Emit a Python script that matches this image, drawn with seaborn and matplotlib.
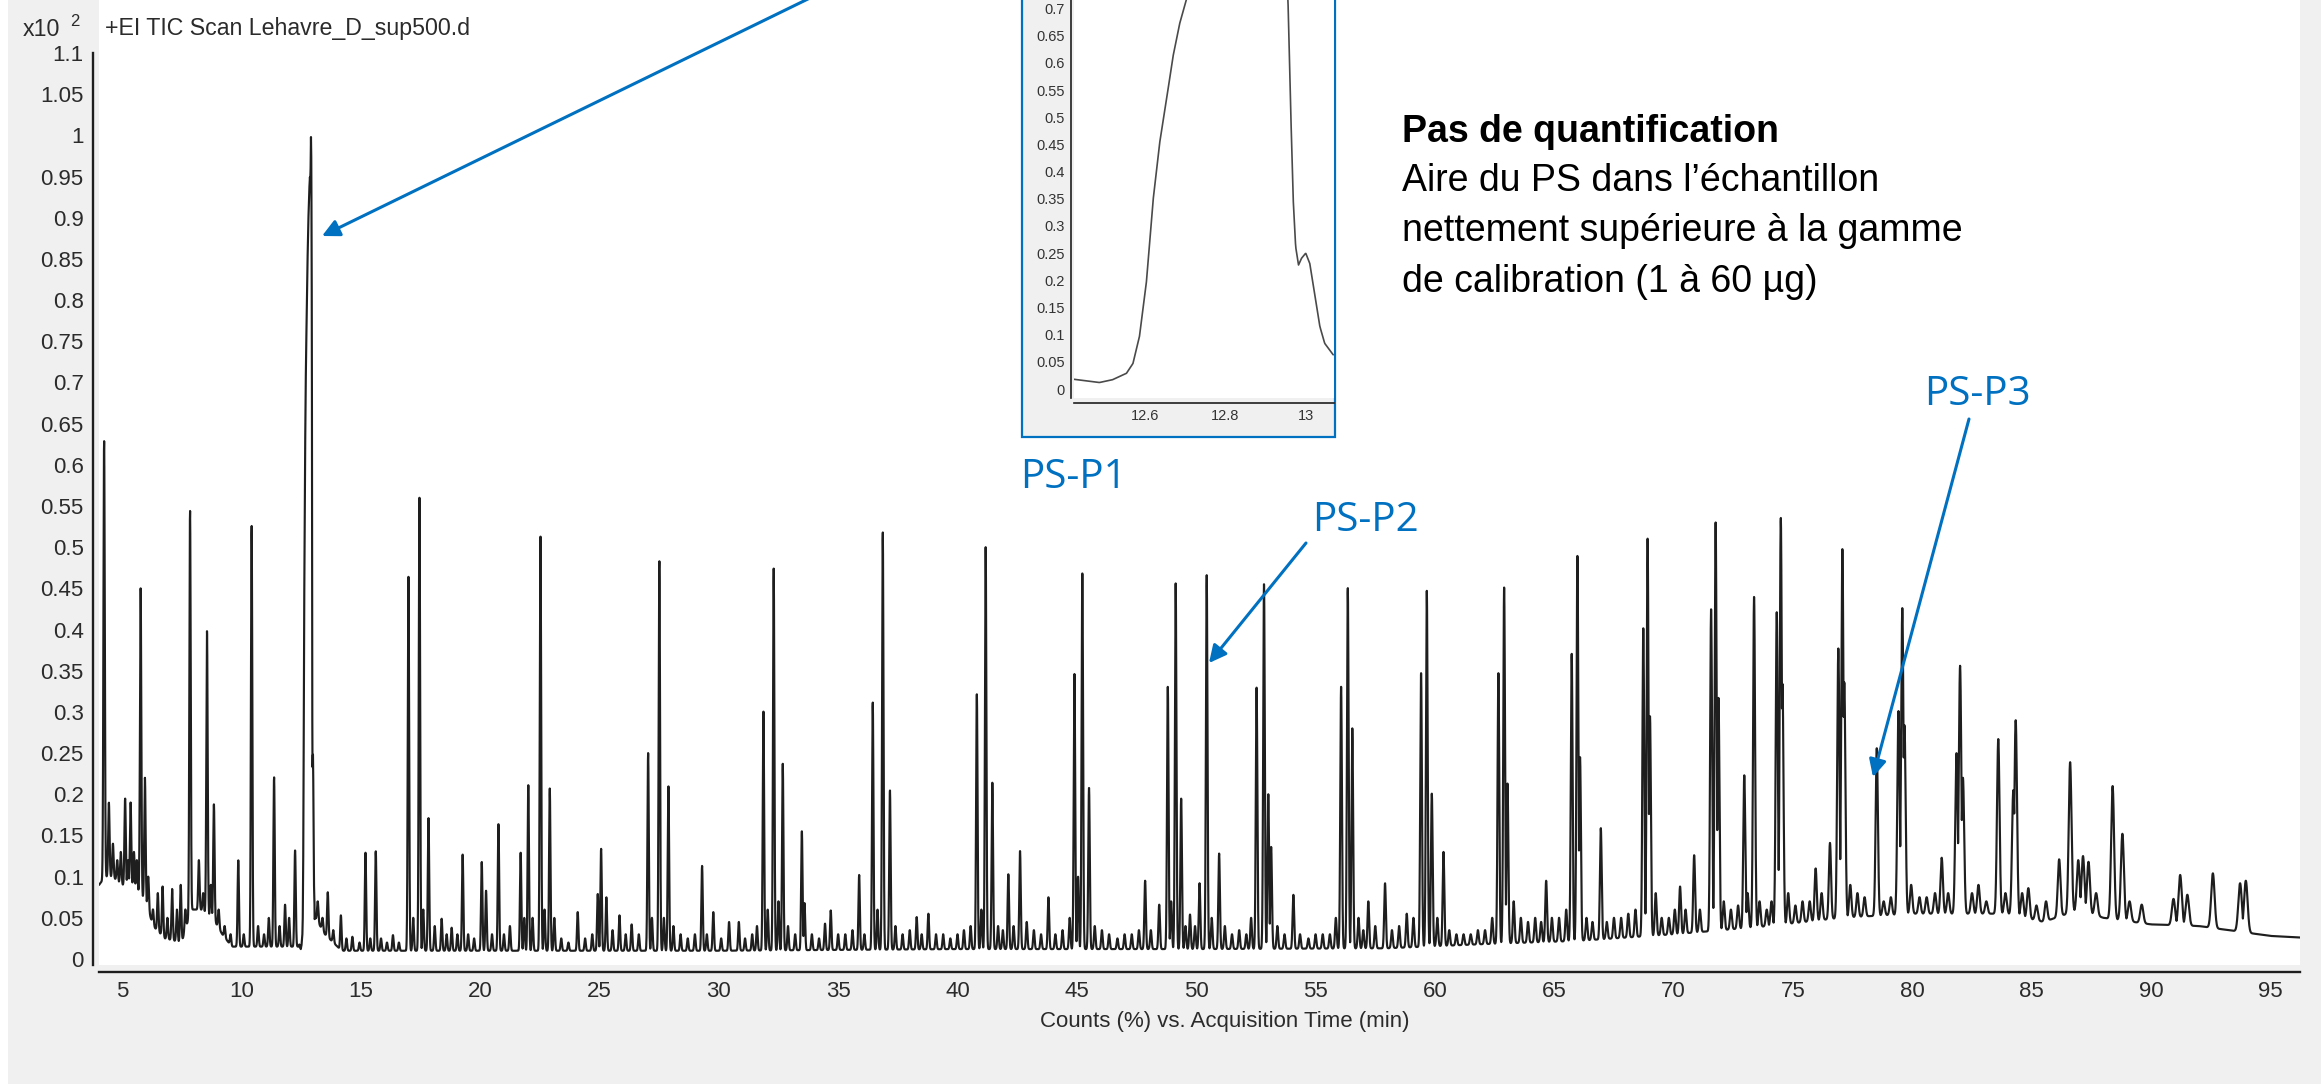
import numpy as np
import matplotlib
matplotlib.use("Agg")
import matplotlib.pyplot as plt
from matplotlib.patches import Rectangle, FancyArrowPatch
from matplotlib.ticker import FuncFormatter
import seaborn as sns

# ---------------------------------------------------------------- data
# TIC peaks: retention time (min) and apex height (counts, x10^2 %)
peak_rt = [
    4.25, 4.45, 4.62, 4.80, 4.95, 5.13, 5.25, 5.36, 5.50, 5.62, 5.78, 5.96, 6.10, 6.30,
    6.50, 6.70, 6.90, 7.10, 7.30, 7.46, 7.65, 7.85, 8.22, 8.40, 8.56, 8.72, 8.85, 9.05,
    9.30, 9.55, 9.87, 10.1, 10.43, 10.7, 10.95, 11.15, 11.37, 11.6, 11.83, 12.0, 12.25,
    13.2, 13.4, 13.62, 13.85, 14.17, 14.4, 14.65, 14.95, 15.2, 15.4, 15.63, 15.85, 16.1,
    16.35, 16.6, 17.0, 17.2, 17.46, 17.62, 17.84, 18.1, 18.39, 18.6, 18.81, 19.05, 19.27,
    19.5, 19.75, 20.07, 20.25, 20.5, 20.77, 21.0, 21.25, 21.7, 21.85, 22.02, 22.2, 22.53,
    22.7, 22.92, 23.11, 23.4, 23.7, 24.09, 24.4, 24.7, 24.93, 25.07, 25.29, 25.55, 25.84,
    26.1, 26.35, 26.65, 27.04, 27.2, 27.51, 27.7, 27.89, 28.1, 28.4, 28.7, 29.0, 29.3,
    29.5, 29.77, 30.1, 30.43, 30.84, 31.1, 31.4, 31.6, 31.87, 32.05, 32.3, 32.5, 32.68,
    32.9, 33.2, 33.48, 33.59, 33.9, 34.2, 34.45, 34.69, 35.0, 35.3, 35.6, 35.88, 36.1,
    36.45, 36.65, 36.87, 37.17, 37.4, 37.7, 38.0, 38.29, 38.5, 38.78, 39.1, 39.4, 39.7,
    40.0, 40.27, 40.55, 40.81, 41.0, 41.18, 41.46, 41.7, 41.9, 42.13, 42.35, 42.62, 42.9,
    43.2, 43.5, 43.81, 44.1, 44.4, 44.7, 44.9, 45.05, 45.23, 45.51, 45.75, 46.05, 46.35,
    46.7, 47.0, 47.3, 47.6, 47.86, 48.1, 48.45, 48.81, 48.95, 49.14, 49.37, 49.55, 49.74,
    49.95, 50.14, 50.44, 50.65, 50.96, 51.2, 51.5, 51.8, 52.1, 52.3, 52.53, 52.84, 53.02,
    53.14, 53.4, 53.7, 54.07, 54.35, 54.7, 55.0, 55.3, 55.6, 55.85, 56.07, 56.35, 56.54,
    56.8, 57.0, 57.21, 57.5, 57.91, 58.2, 58.5, 58.82, 59.1, 59.42, 59.66, 59.87, 60.1,
    60.36, 60.6, 60.9, 61.2, 61.5, 61.8, 62.1, 62.4, 62.66, 62.9, 63.04, 63.3, 63.6,
    63.9, 64.2, 64.45, 64.66, 64.9, 65.2, 65.5, 65.73, 65.97, 66.08, 66.35, 66.6, 66.95,
    67.2, 67.5, 67.8, 68.1, 68.4, 68.73, 68.91, 69.01, 69.25, 69.5, 69.8, 70.05, 70.27,
    70.5, 70.86, 71.1, 71.57, 71.76, 71.88, 72.1, 72.4, 72.7, 72.96, 73.1, 73.37, 73.6,
    73.9, 74.1, 74.32, 74.49, 74.56, 74.8, 75.1, 75.4, 75.7, 75.95, 76.2, 76.55, 76.9,
    77.07, 77.15, 77.4, 77.7, 78.0, 78.51, 78.8, 79.1, 79.42, 79.58, 79.67, 79.95, 80.3,
    80.6, 80.95, 81.23, 81.5, 81.85, 82.0, 82.12, 82.5, 82.77, 83.1, 83.6, 83.9, 84.23,
    84.33, 84.6, 84.86, 85.2, 85.6, 86.15, 86.61, 86.95, 87.15, 87.38, 87.7, 88.39, 88.8,
    89.1, 89.61, 90.94, 91.22, 91.52, 92.59, 93.73, 93.97,
]
peak_counts = [
    0.63, 0.19, 0.14, 0.12, 0.13, 0.195, 0.12, 0.19, 0.13, 0.12, 0.45, 0.22, 0.10, 0.06,
    0.08, 0.088, 0.05, 0.085, 0.06, 0.09, 0.06, 0.545, 0.12, 0.08, 0.398, 0.09, 0.188, 0.06,
    0.04, 0.03, 0.12, 0.03, 0.527, 0.04, 0.03, 0.05, 0.221, 0.04, 0.066, 0.05, 0.132,
    0.07, 0.05, 0.081, 0.035, 0.053, 0.025, 0.027, 0.02, 0.129, 0.025, 0.131, 0.025, 0.02,
    0.029, 0.02, 0.464, 0.05, 0.56, 0.06, 0.171, 0.04, 0.049, 0.03, 0.038, 0.03, 0.127,
    0.03, 0.025, 0.118, 0.083, 0.03, 0.164, 0.03, 0.04, 0.129, 0.05, 0.211, 0.05, 0.514,
    0.06, 0.207, 0.05, 0.025, 0.02, 0.057, 0.025, 0.03, 0.079, 0.134, 0.075, 0.035, 0.053,
    0.03, 0.042, 0.03, 0.25, 0.05, 0.484, 0.05, 0.21, 0.04, 0.03, 0.025, 0.03, 0.113,
    0.03, 0.057, 0.025, 0.045, 0.045, 0.025, 0.03, 0.04, 0.301, 0.06, 0.474, 0.07, 0.237,
    0.04, 0.03, 0.155, 0.068, 0.03, 0.025, 0.043, 0.059, 0.03, 0.03, 0.035, 0.102, 0.03,
    0.312, 0.06, 0.519, 0.205, 0.04, 0.03, 0.035, 0.051, 0.03, 0.055, 0.03, 0.03, 0.025,
    0.03, 0.035, 0.04, 0.322, 0.06, 0.5, 0.214, 0.04, 0.035, 0.103, 0.04, 0.131, 0.045,
    0.035, 0.03, 0.075, 0.03, 0.035, 0.05, 0.346, 0.1, 0.469, 0.208, 0.04, 0.035, 0.03,
    0.025, 0.03, 0.03, 0.035, 0.095, 0.035, 0.066, 0.331, 0.07, 0.456, 0.195, 0.04, 0.054,
    0.04, 0.092, 0.466, 0.05, 0.128, 0.04, 0.03, 0.035, 0.03, 0.05, 0.33, 0.455, 0.2,
    0.136, 0.04, 0.03, 0.078, 0.03, 0.025, 0.03, 0.03, 0.03, 0.05, 0.331, 0.451, 0.28,
    0.05, 0.035, 0.07, 0.04, 0.092, 0.035, 0.04, 0.055, 0.05, 0.347, 0.447, 0.201, 0.05,
    0.13, 0.035, 0.03, 0.03, 0.03, 0.035, 0.035, 0.05, 0.347, 0.451, 0.213, 0.07, 0.05,
    0.045, 0.05, 0.045, 0.095, 0.05, 0.05, 0.06, 0.371, 0.49, 0.245, 0.05, 0.045, 0.159,
    0.045, 0.05, 0.05, 0.055, 0.06, 0.402, 0.511, 0.295, 0.08, 0.05, 0.05, 0.06, 0.088,
    0.06, 0.126, 0.06, 0.425, 0.53, 0.317, 0.07, 0.06, 0.065, 0.223, 0.08, 0.44, 0.07,
    0.06, 0.07, 0.421, 0.536, 0.334, 0.08, 0.065, 0.07, 0.07, 0.11, 0.08, 0.141, 0.377,
    0.498, 0.336, 0.09, 0.08, 0.075, 0.256, 0.07, 0.075, 0.301, 0.426, 0.284, 0.09, 0.075,
    0.075, 0.08, 0.123, 0.08, 0.25, 0.356, 0.22, 0.08, 0.09, 0.07, 0.267, 0.08, 0.205,
    0.29, 0.08, 0.086, 0.065, 0.07, 0.121, 0.239, 0.12, 0.125, 0.118, 0.08, 0.21, 0.152,
    0.07, 0.066, 0.073, 0.102, 0.078, 0.104, 0.092, 0.095,
]

# slowly drifting baseline under the peaks
baseline_rt = [4.04, 4.3, 4.6, 5.0, 5.5, 6.0, 6.3, 6.8, 7.5, 7.9, 8.3, 8.8, 9.2, 9.6,
               12.4, 13.1, 13.5, 14.2, 20.0, 30.0, 40.0, 50.0, 58.0, 62.0, 66.0, 70.0,
               74.0, 77.0, 80.0, 84.0, 85.5, 87.0, 88.0, 90.0, 92.0, 94.0, 95.0, 96.3]
baseline_counts = [0.09, 0.10, 0.10, 0.09, 0.09, 0.07, 0.04, 0.025, 0.02, 0.06, 0.06, 0.05,
                   0.03, 0.015, 0.015, 0.05, 0.03, 0.01, 0.01, 0.01, 0.012, 0.012, 0.013,
                   0.018, 0.022, 0.03, 0.04, 0.05, 0.055, 0.055, 0.045, 0.06, 0.05, 0.042,
                   0.04, 0.032, 0.028, 0.026]

# peak width (gaussian sigma, min) along the run
width_rt = [4.0, 40.0, 70.0, 85.0, 96.5]
width_sigma = [0.028, 0.03, 0.038, 0.055, 0.08]

# PS-P1 profile (overloaded peak), shared by the main trace and the zoom window
p1_rt = [12.424, 12.455, 12.488, 12.52, 12.555, 12.571, 12.587, 12.604, 12.621, 12.637,
         12.654, 12.670, 12.687, 12.703, 12.73, 12.76, 12.80, 12.84, 12.87, 12.885, 12.90,
         12.915, 12.93, 12.945, 12.955, 12.961, 12.968, 12.974, 12.981, 12.988, 12.999,
         13.009, 13.021, 13.034, 13.046, 13.067]
p1_counts = [0.018, 0.015, 0.012, 0.017, 0.029, 0.047, 0.096, 0.194, 0.348, 0.452,
             0.532, 0.611, 0.673, 0.716, 0.77, 0.83, 0.89, 0.93, 0.95, 0.945, 0.96,
             1.0, 0.97, 0.85, 0.716, 0.532, 0.348, 0.262, 0.228, 0.240, 0.250,
             0.231, 0.176, 0.115, 0.084, 0.063]

x_ticks = list(range(5, 100, 5))
y_ticks = [round(0.05 * i, 2) for i in range(23)]
inset_x_ticks = [12.6, 12.8, 13.0]
inset_y_ticks = [round(0.05 * i, 2) for i in range(15)]

# ---------------------------------------------------------------- trace
t = np.arange(4.04, 96.26, 0.004)
base = np.interp(t, baseline_rt, baseline_counts)
signal = base.copy()
rt = np.asarray(peak_rt)
amp = np.clip(np.asarray(peak_counts) - np.interp(rt, baseline_rt, baseline_counts), 0, None)
sig = np.interp(rt, width_rt, width_sigma)
for r, a, s in zip(rt, amp, sig):
    m = np.abs(t - r) < 6 * s
    signal[m] = np.maximum(signal[m], base[m] + a * np.exp(-0.5 * ((t[m] - r) / s) ** 2))
seg = (t >= p1_rt[0]) & (t <= p1_rt[-1])
signal[seg] = np.interp(t[seg], p1_rt, p1_counts)

t_in = np.linspace(p1_rt[0], p1_rt[-1], 600)
s_in = np.interp(t_in, p1_rt, p1_counts)

# ---------------------------------------------------------------- figure
W, H, DPI = 2321, 1084, 100
BG = "#f0f0f0"
BLUE = "#0070C0"
INK = "#1e1e1e"
LABEL = "#2b2b2b"


def frac_box(left, top, right, bottom):
    return [left / W, 1 - bottom / H, (right - left) / W, (bottom - top) / H]


def fx(x):
    return x / W


def fy(y):
    return 1 - y / H


sns.set_theme(style="white")
plt.rcParams["font.family"] = ["Liberation Sans", "DejaVu Sans"]

fig = plt.figure(figsize=(W / DPI, H / DPI), dpi=DPI, facecolor=BG)
fig.add_artist(Rectangle((0, 0), 8 / W, 1, transform=fig.transFigure,
                         facecolor="white", edgecolor="none", zorder=0))


def trim(v, _pos=None):
    return f"{v:.2f}".rstrip("0").rstrip(".")


# main chromatogram
ax = fig.add_axes(frac_box(99, 0, 2300, 965), facecolor="white", zorder=1)
sns.lineplot(x=t, y=signal, ax=ax, color=INK, linewidth=1.55)
ax.set_xlim(4.036, 96.24)
ax.set_ylim(-0.0073, 1.1644)
for s in ("top", "right"):
    ax.spines[s].set_visible(False)
ax.spines["left"].set_position(("outward", 4.5))
ax.spines["left"].set_bounds(-0.0073, 1.1)
ax.spines["bottom"].set_position(("outward", 5))
for s in ("left", "bottom"):
    ax.spines[s].set_color(INK)
    ax.spines[s].set_linewidth(1.7)
ax.set_xticks(x_ticks)
ax.set_yticks(y_ticks)
ax.yaxis.set_major_formatter(FuncFormatter(trim))
ax.tick_params(axis="both", direction="out", length=4.5, width=1.2, color=INK,
               labelsize=16, labelcolor=LABEL, pad=2)
ax.set_xlabel("")
ax.set_ylabel("")

fig.text(fx(105), fy(28), "+EI TIC Scan Lehavre_D_sup500.d", ha="left", va="center",
         fontsize=16.7, color=LABEL)
fig.text(fx(23), fy(30), "x10", ha="left", va="center", fontsize=16.7, color=LABEL)
fig.text(fx(70), fy(21), "2", ha="left", va="center", fontsize=12, color=LABEL)
fig.text(fx(1225), fy(1021), "Counts (%) vs. Acquisition Time (min)", ha="center",
         va="center", fontsize=16, color=LABEL)

# zoom window on PS-P1
frame = Rectangle((fx(1022), fy(437)), (1335 - 1022) / W, (437 + 90) / H,
                  transform=fig.transFigure, facecolor=BG, edgecolor=BLUE,
                  linewidth=1.6, zorder=5)
fig.add_artist(frame)
ins = fig.add_axes(frac_box(1074, -73, 1334, 398), facecolor="white", zorder=6)
sns.lineplot(x=t_in, y=s_in, ax=ins, color="#4a4a4a", linewidth=1.2)
ins.set_xlim(12.425, 13.069)
ins.set_ylim(-0.0165, 0.85)
for s in ("top", "right"):
    ins.spines[s].set_visible(False)
ins.spines["left"].set_position(("outward", 2.2))
ins.spines["bottom"].set_position(("outward", 3.6))
for s in ("left", "bottom"):
    ins.spines[s].set_color(INK)
    ins.spines[s].set_linewidth(1.2)
ins.set_xticks(inset_x_ticks)
ins.xaxis.set_major_formatter(FuncFormatter(trim))
ins.set_yticks(inset_y_ticks)
ins.yaxis.set_major_formatter(FuncFormatter(trim))
ins.tick_params(axis="both", direction="out", length=3, width=1, color=INK,
                labelsize=10.5, labelcolor="#333333", pad=1.5)
ins.set_xlabel("")
ins.set_ylabel("")

# comment block
body = dict(ha="left", va="baseline", fontsize=27, color="black", zorder=8)
fig.text(fx(1402), fy(142), "Pas de quantification", fontweight="bold", **body)
fig.text(fx(1402), fy(191), "Aire du PS dans l\u2019\u00e9chantillon", **body)
fig.text(fx(1402), fy(241), "nettement sup\u00e9rieure \u00e0 la gamme", **body)
fig.text(fx(1402), fy(292), "de calibration (1 \u00e0 60 \u00b5g)", **body)

# peak call-outs
tag = dict(ha="left", va="baseline", fontsize=29, color=BLUE,
           family=["Open Sans", "DejaVu Sans"], zorder=8)
fig.text(fx(1020), fy(488), "PS-P1", **tag)
fig.text(fx(1312), fy(531), "PS-P2", **tag)
fig.text(fx(1924), fy(405), "PS-P3", **tag)

for (x0, y0), (x1, y1) in [((812, -3), (322, 236)),
                           ((1306, 543), (1209, 663)),
                           ((1969, 419), (1873, 777))]:
    fig.add_artist(FancyArrowPatch((fx(x0), fy(y0)), (fx(x1), fy(y1)),
                                   transform=fig.transFigure, arrowstyle="-|>",
                                   mutation_scale=26, linewidth=2.2, color=BLUE,
                                   shrinkA=0, shrinkB=0, zorder=9))

fig.savefig("out.png", dpi=DPI, facecolor=fig.get_facecolor())
